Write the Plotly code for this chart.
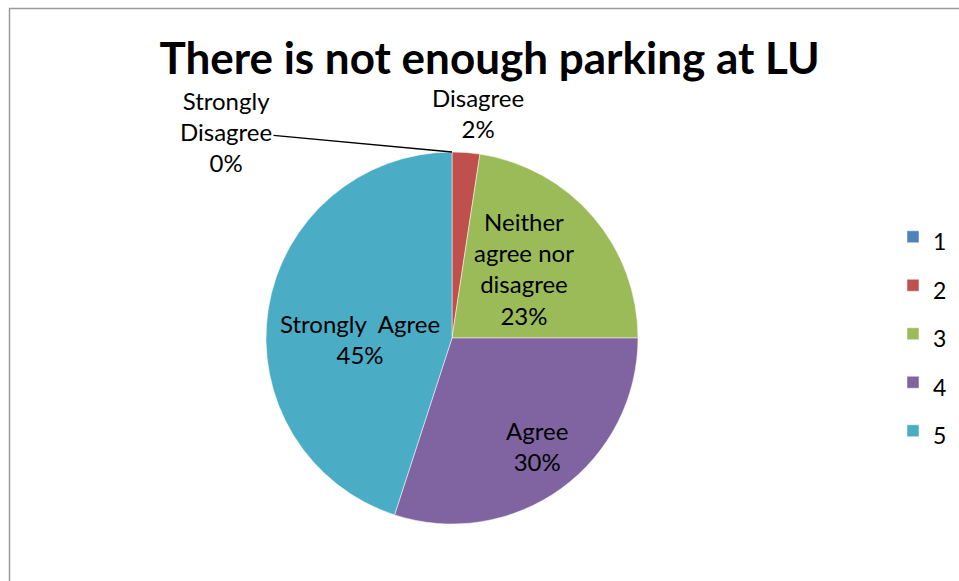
import plotly.graph_objects as go

# Data
categories = ["1", "2", "3", "4", "5"]
answer_names = ["Strongly<br>Disagree", "Disagree", "Neither<br>agree nor<br>disagree", "Agree", "Strongly  Agree"]
shares = [0.0, 2.4, 22.6, 30.0, 45.0]
pct_labels = ["0%", "2%", "23%", "30%", "45%"]
colors = ["#4F81BD", "#C0504D", "#9BBB59", "#8064A2", "#4BACC6"]

W, H = 959, 581
font_family = "Lato, 'Open Sans', sans-serif"

# pie geometry (pixels)
CX, CY, R = 452, 338, 186
# data-label centres (pixels), one per slice
label_xy = [(226, 131), (478, 113), (524, 268), (537, 446), (360, 339)]

slice_text = [f"{n}<br>{p}" for n, p in zip(answer_names, pct_labels)]
legend_labels = [f'<span style="font-size:23px">{c}</span>' for c in categories]

fig = go.Figure()
fig.add_trace(go.Pie(
    labels=legend_labels,
    values=shares,
    text=slice_text,
    textinfo="none",
    hovertext=slice_text,
    marker=dict(colors=colors, line=dict(color="#ffffff", width=0.5)),
    sort=False,
    direction="clockwise",
    rotation=0,
    domain=dict(x=[(CX - R) / W, (CX + R) / W], y=[1 - (CY + R) / H, 1 - (CY - R) / H]),
    showlegend=True,
))

for i, (txt, (lx, ly)) in enumerate(zip(slice_text, label_xy)):
    if shares[i] == 0:
        # zero slice: leader line to the top of the pie
        fig.add_annotation(
            xref="paper", yref="paper",
            x=CX / W, y=1 - (CY - R) / H,
            text=txt, showarrow=True, arrowhead=0, arrowwidth=1.3, arrowcolor="#000000",
            ax=lx - CX, ay=ly - (CY - R),
            font=dict(family=font_family, size=24, color="#000000"), align="center",
        )
    else:
        fig.add_annotation(
            xref="paper", yref="paper", x=lx / W, y=1 - ly / H,
            xanchor="center", yanchor="middle",
            text=txt, showarrow=False,
            font=dict(family=font_family, size=24, color="#000000"), align="center",
        )

# chart border
fig.add_shape(type="rect", xref="paper", yref="paper",
              x0=9.5 / W, x1=1.05, y0=-0.05, y1=1 - 8.5 / H,
              line=dict(color="#9a9a9a", width=1.5), fillcolor="rgba(0,0,0,0)", layer="below")

fig.update_layout(
    width=W, height=H,
    margin=dict(l=0, r=0, t=0, b=0),
    paper_bgcolor="#ffffff",
    plot_bgcolor="#ffffff",
    title=dict(text="<b>There is not enough parking at LU</b>",
               x=489.5 / W, xanchor="center", y=1 - 59 / H, yanchor="middle",
               font=dict(family=font_family, size=44, color="#000000")),
    legend=dict(x=893 / W, xanchor="left", y=1 - 334 / H, yanchor="middle",
                font=dict(family=font_family, size=35, color="#000000"),
                bgcolor="rgba(0,0,0,0)"),
)

fig.write_html("out.html")
